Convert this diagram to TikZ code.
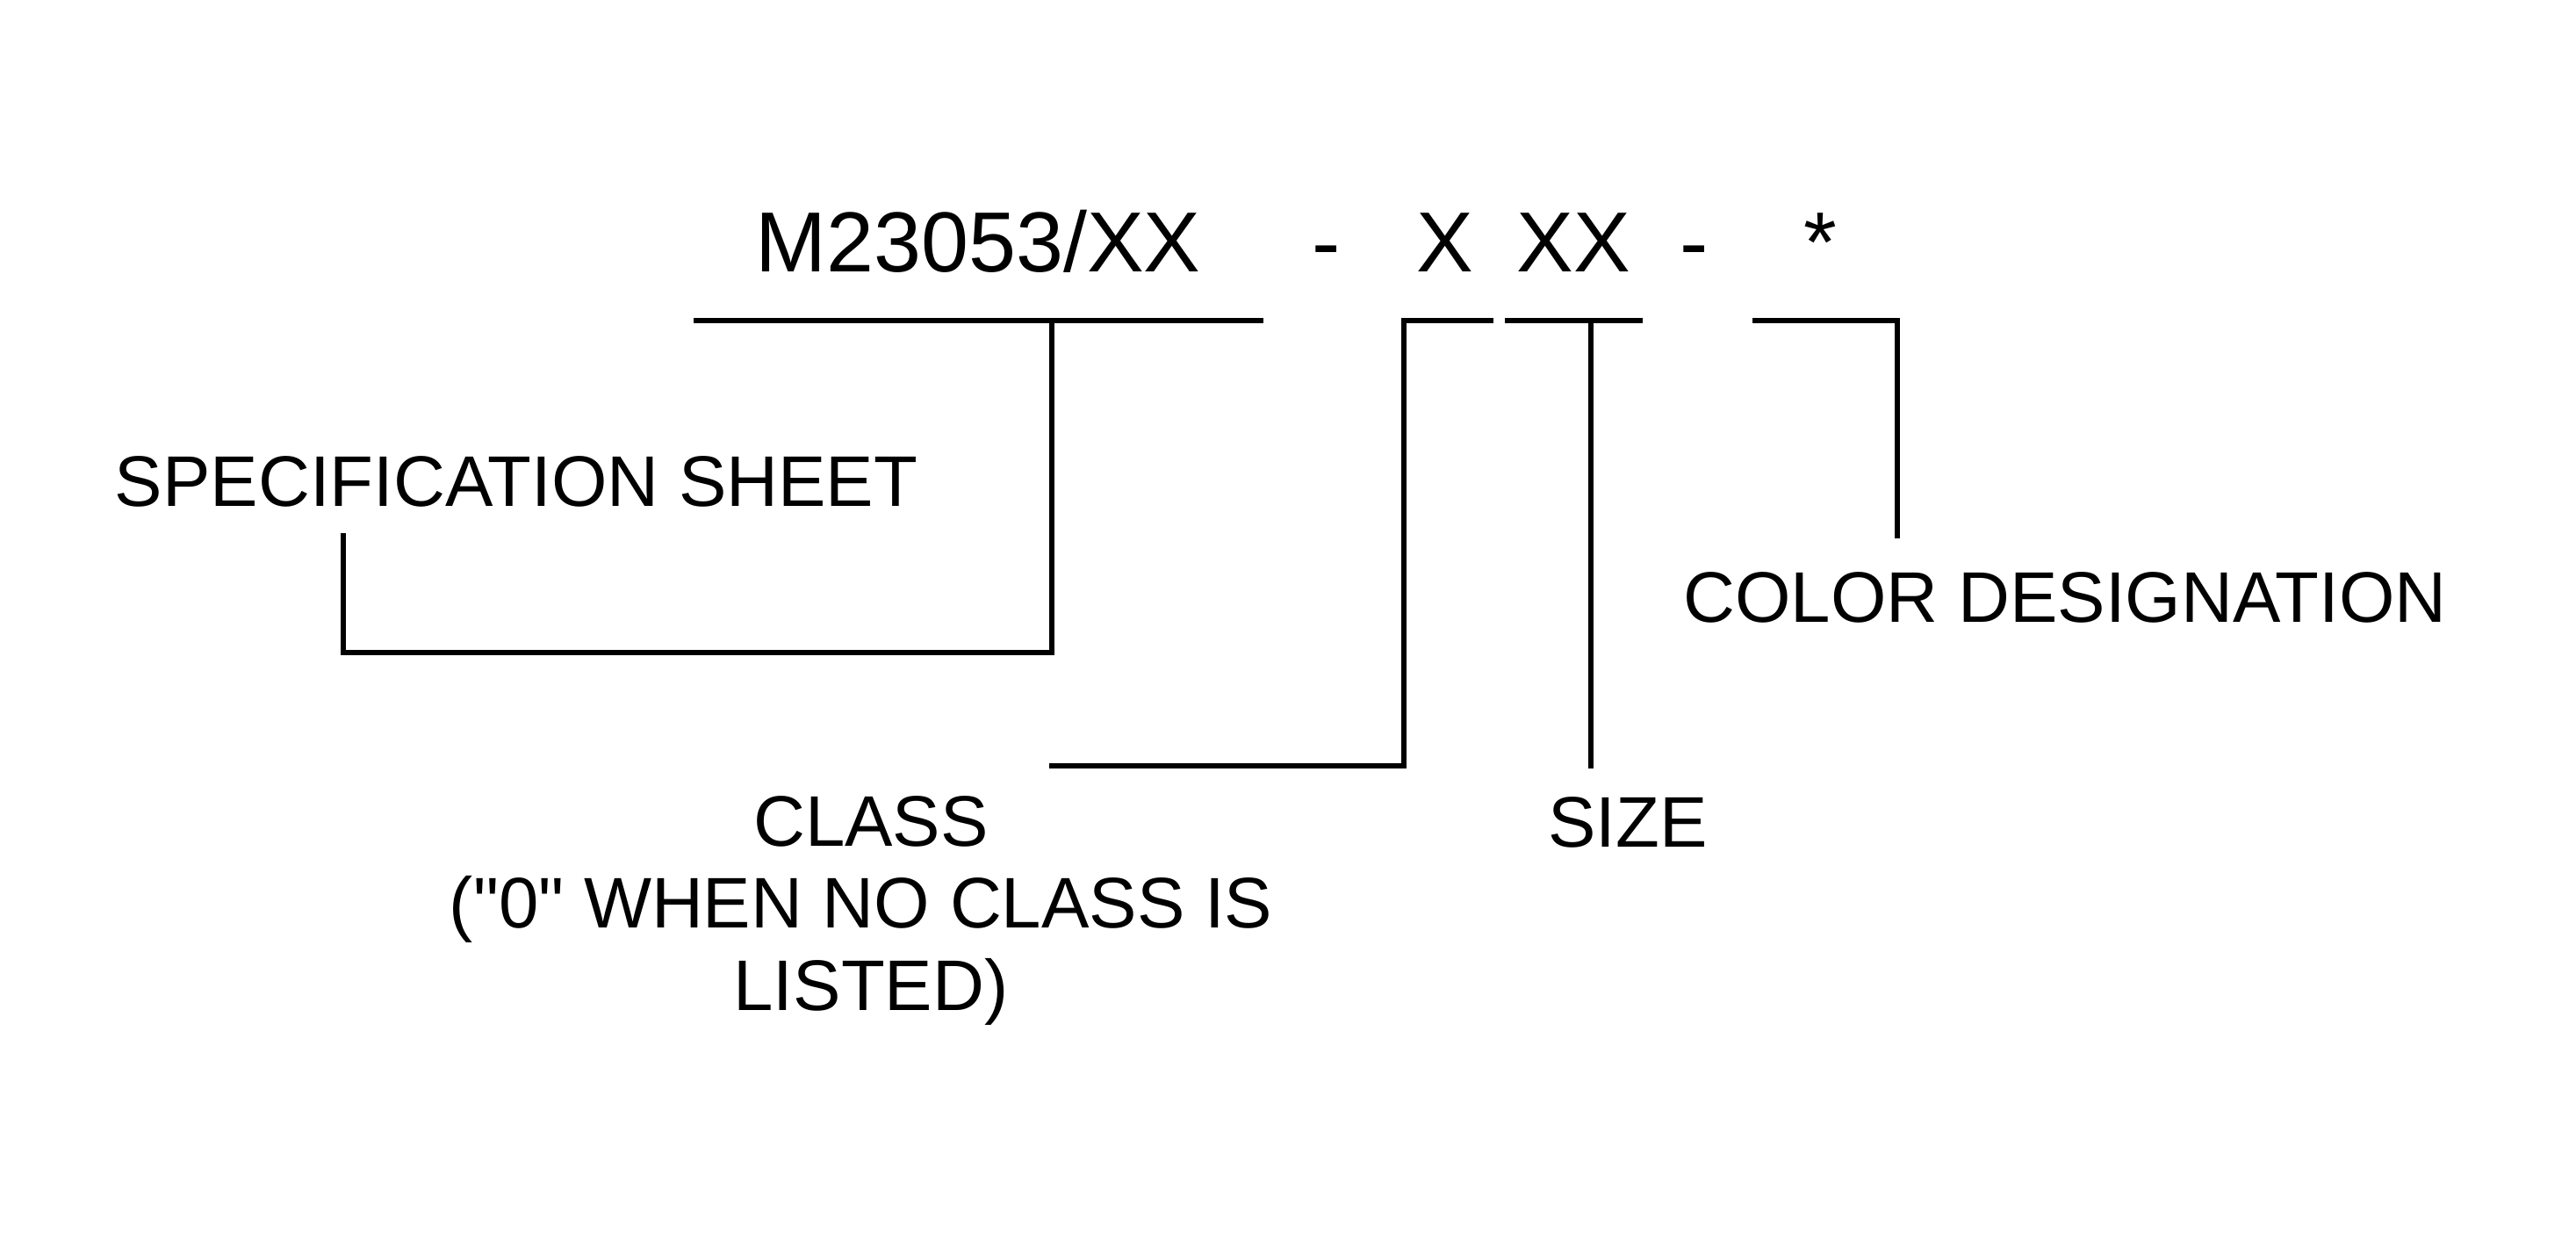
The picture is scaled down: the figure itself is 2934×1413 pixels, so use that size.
\documentclass[tikz,border=0pt]{standalone}
\usepackage{fontspec}
\setmainfont{Liberation Sans}
\usetikzlibrary{positioning}

\begin{document}
\begin{tikzpicture}[
	x=0.01cm, y=-0.01cm,
	code/.style={
		inner sep=0pt,
		anchor=base,
		font=\fontsize{27.6}{32}\selectfont
	},
	lbl/.style={
		inner sep=0pt,
		anchor=base,
		align=center,
		font=\fontsize{23.2}{26.5}\selectfont
	},
	bar/.style={
		draw,
		line width=1.7pt
	}
	]
	\useasboundingbox (0,0) rectangle (2934,1413);

	% part number
	\node[code] (spec) at (1114,310) {M23053/XX};
	\node[code] (dash1) at (1511,310) {-};
	\node[code] (cls) at (1646,310) {X};
	\node[code] (size) at (1792,310) {XX};
	\node[code] (dash2) at (1930,310) {-};
	\node[code] (color) at (2073,310) {*};

	% labels
	\node[lbl] (specL) at (588,577) {SPECIFICATION SHEET};
	\node[lbl] (clsL) at (992,1150) {CLASS\\(\textquotedbl 0\textquotedbl{} WHEN NO CLASS IS\kern0.278em\\LISTED)};
	\node[lbl] (sizeL) at (1854,964) {SIZE};
	\node[lbl] (colorL) at (2352,708) {COLOR DESIGNATION};

	% bars under the fields
	\coordinate (specA) at (790,365);
	\coordinate (specB) at (1439,365);
	\coordinate (specT) at (1198,365);
	\coordinate (specC) at (391,743);
	\coordinate (specE) at (391,607);
	\coordinate (clsA) at (1599,365);
	\coordinate (clsB) at (1701,365);
	\coordinate (clsE) at (1195,872);
	\coordinate (sizeA) at (1714,365);
	\coordinate (sizeB) at (1871,365);
	\coordinate (sizeT) at (1812,365);
	\coordinate (sizeE) at (1812,875);
	\coordinate (colorA) at (1996,365);
	\coordinate (colorB) at (2161,365);
	\coordinate (colorE) at (2161,613);

	\draw[bar] (specA) -- (specB);
	\draw[bar] (specT) |- (specC) -- (specE);
	\draw[bar] (clsB) -- (clsA) |- (clsE);
	\draw[bar] (sizeA) -- (sizeB);
	\draw[bar] (sizeT) -- (sizeE);
	\draw[bar] (colorA) -- (colorB) -- (colorE);
\end{tikzpicture}
\end{document}
